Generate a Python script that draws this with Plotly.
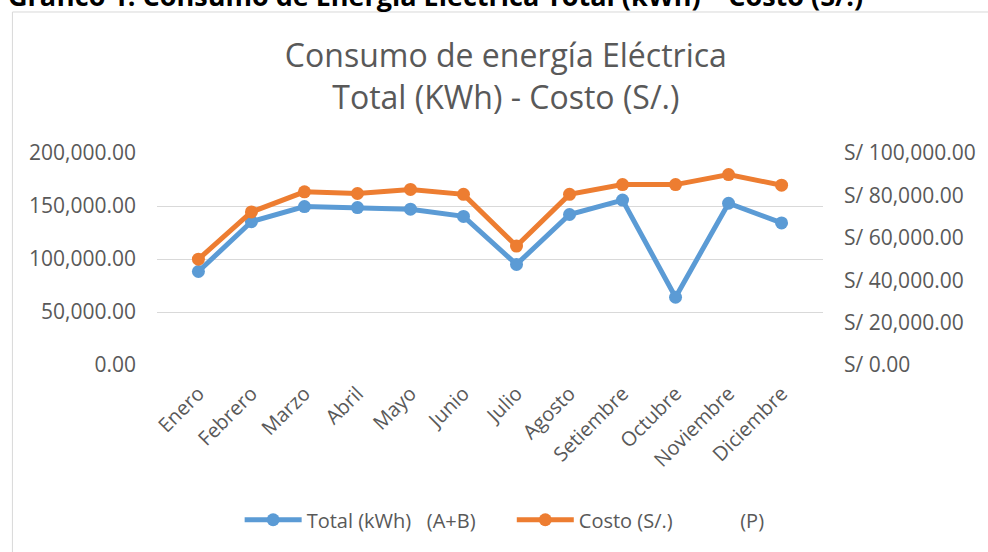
import plotly.graph_objects as go

meses = ['Enero', 'Febrero', 'Marzo', 'Abril', 'Mayo', 'Junio', 'Julio',
         'Agosto', 'Setiembre', 'Octubre', 'Noviembre', 'Diciembre']
total_kwh = [88200, 135200, 149500, 148500, 147000, 140200,
             94900, 142000, 155600, 63900, 152600, 134000]
costo_soles = [49900, 72200, 81700, 80900, 82800, 80500,
               56100, 80500, 85100, 85100, 89800, 84800]

azul = '#5B9BD5'
naranja = '#ED7D31'
gris = '#595959'
fuente = 'Open Sans'
sp = '\u00a0'

fig = go.Figure()
fig.add_trace(go.Scatter(x=meses, y=total_kwh, name='Total (kWh)' + sp * 3 + '(A+B)' + sp * 6,
                         mode='lines+markers', line=dict(color=azul, width=5),
                         marker=dict(size=13, color=azul)))
fig.add_trace(go.Scatter(x=meses, y=costo_soles, name='Costo (S/.)' + sp * 13 + '(P)',
                         mode='lines+markers', line=dict(color=naranja, width=5),
                         marker=dict(size=13, color=naranja), yaxis='y2'))

# plot area: x 157..825, y 153..368 (px)
fig.update_layout(
    width=988, height=552,
    margin=dict(l=157, r=163, t=153, b=184),
    paper_bgcolor='white', plot_bgcolor='white',
    font=dict(family=fuente, color=gris, size=20),
    title=dict(text='Consumo de energía Eléctrica<br>Total (KWh) - Costo (S/.)',
               x=0.512, xref='container', xanchor='center',
               y=(552 - 67) / 552, yref='container', yanchor='top',
               font=dict(family=fuente, size=32, color=gris)),
    xaxis=dict(tickangle=-45, showgrid=False, showline=False, ticks='',
               ticklabelstandoff=12, tickfont=dict(size=20, color=gris)),
    yaxis=dict(range=[0, 200000], dtick=50000, tickformat=',.2f',
               gridcolor='#D9D9D9', gridwidth=1, zeroline=False,
               ticklabelstandoff=20, tickfont=dict(size=21, color=gris)),
    yaxis2=dict(range=[0, 100000], dtick=20000, tickformat=',.2f', tickprefix='S/ ',
                overlaying='y', side='right', showgrid=False, zeroline=False,
                ticklabelstandoff=20, tickfont=dict(size=21, color=gris)),
    legend=dict(orientation='h', x=0.522, xanchor='center', y=-0.73, yanchor='middle',
                font=dict(size=20, color=gris), itemwidth=57),
    showlegend=True,
)

# chart border and cut-off caption above it
fig.add_shape(type='rect', xref='paper', yref='paper',
              x0=(12 - 157) / 668, x1=(1010 - 157) / 668,
              y0=(368 - 570) / 215, y1=(368 - 10) / 215,
              line=dict(color='#D9D9D9', width=1), fillcolor='rgba(0,0,0,0)', layer='below')
fig.add_annotation(text='<b>Gráfico 1: Consumo de Energía Eléctrica Total (kWh) – Costo (S/.)</b>',
                   xref='paper', yref='paper', x=(6 - 157) / 668, xanchor='left',
                   y=(368 + 7) / 215, yanchor='middle', showarrow=False,
                   font=dict(family=fuente, size=27, color='black'))

fig.write_html('out.html', config={'displayModeBar': False},
               post_script="document.body.style.margin='0';")
